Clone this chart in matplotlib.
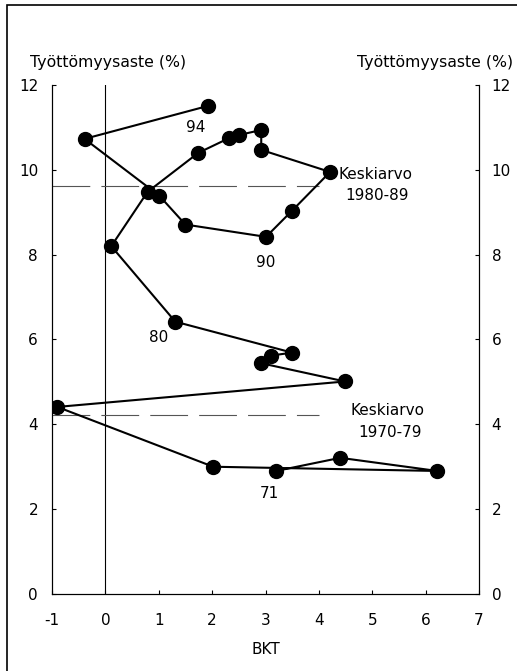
import matplotlib.pyplot as plt
from matplotlib.patches import Rectangle

plt.rcParams['font.family'] = ['DejaVu Sans']
plt.rcParams['axes.unicode_minus'] = False

# BKT-kasvu (%) ja työttömyysaste (%) vuosittain 1971-1994
years = list(range(1971, 1995))
bkt = [3.20, 4.40, 6.22, 2.02, -0.90, 4.49, 2.92, 3.10, 3.50,
       1.31, 0.11, 0.79, 1.74, 2.32, 2.50, 2.92, 2.92, 4.21, 3.50,
       3.01, 1.50, 1.01, -0.39, 1.93]
tyott = [2.90, 3.21, 2.90, 3.00, 4.41, 5.01, 5.44, 5.62, 5.69,
         6.42, 8.20, 9.48, 10.40, 10.75, 10.82, 10.94, 10.47, 9.95, 9.04,
         8.42, 8.71, 9.39, 10.73, 11.51]
keskiarvo_80 = 9.62
keskiarvo_70 = 4.21
# vuosimerkinnät ja niiden siirto pisteestä (x, y)
labelled = {1971: ('71', -0.13, -0.52), 1980: ('80', -0.32, -0.37),
            1990: ('90', 0.0, -0.61), 1994: ('94', -0.23, -0.52)}

fs = 11
fig = plt.figure(figsize=(5.17, 6.71), dpi=100)
ax = fig.add_axes([0.1006, 0.1148, 0.8259, 0.7585])

ax.axvline(0, color='black', lw=0.8)
ax.plot([-1, 4], [keskiarvo_80] * 2, color='#555555', lw=0.8, linestyle=(0, (34, 10)))
ax.plot([-1, 4], [keskiarvo_70] * 2, color='#555555', lw=0.8, linestyle=(0, (34, 10)))

ax.plot(bkt, tyott, color='black', lw=1.5, marker='o', markersize=10,
        markerfacecolor='black', zorder=3)

for yr, (txt, dx, dy) in labelled.items():
    i = years.index(yr)
    ax.text(bkt[i] + dx, tyott[i] + dy, txt, ha='center', va='center', fontsize=fs)

ax.text(4.37, 9.88, 'Keskiarvo', ha='left', va='center', fontsize=fs)
ax.text(4.50, 9.39, '1980-89', ha='left', va='center', fontsize=fs)
ax.text(4.60, 4.33, 'Keskiarvo', ha='left', va='center', fontsize=fs)
ax.text(4.73, 3.81, '1970-79', ha='left', va='center', fontsize=fs)

ax.set_xlim(-1, 7)
ax.set_ylim(0, 12)
ax.set_xticks(range(-1, 8))
ax.set_yticks(range(0, 13, 2))
ax.set_xlabel('BKT', fontsize=fs, labelpad=10)
ax.spines['top'].set_visible(False)
ax.tick_params(direction='in', length=3, labelsize=fs, pad=14)
ax.tick_params(axis='y', pad=10)

ax2 = ax.twinx()
ax2.set_ylim(0, 12)
ax2.set_yticks(range(0, 13, 2))
ax2.spines['top'].set_visible(False)
ax2.tick_params(direction='in', length=3, labelsize=fs, pad=9)

fig.text(30 / 517, 1 - 62 / 671, 'Työttömyysaste (%)', ha='left', va='center', fontsize=11.3)
fig.text(513 / 517, 1 - 62 / 671, 'Työttömyysaste (%)', ha='right', va='center', fontsize=11.3)

fig.patches.append(Rectangle((7 / 517, -0.1), 1.2, 1 - 5 / 671 + 0.1,
                             transform=fig.transFigure, fill=False,
                             edgecolor='black', lw=1.2))

fig.savefig('out.png', dpi=100)
